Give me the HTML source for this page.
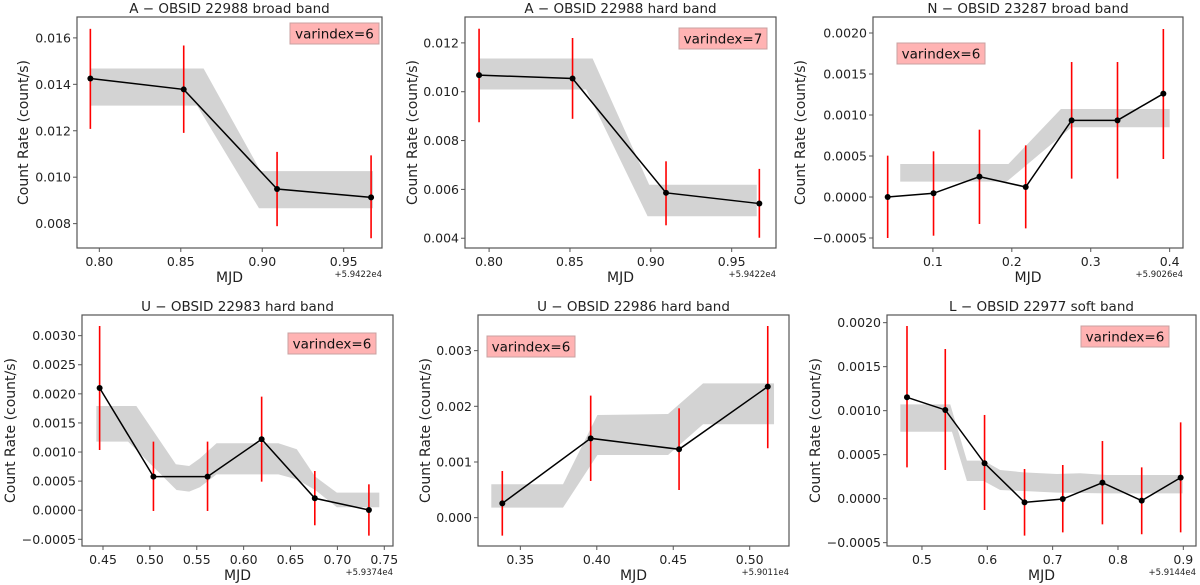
<!DOCTYPE html>
<html><head><meta charset="utf-8"><style>
html,body{margin:0;padding:0;background:#fff;}
svg{display:block;font-family:"DejaVu Sans","Liberation Sans",sans-serif;}
</style></head><body>
<svg id="fig" width="1200" height="585" viewBox="0 0 1200 585" xmlns="http://www.w3.org/2000/svg"></svg>
<script>
// ---- Panel 1: A - OBSID 22988 broad band ----
const p1X=[0.7945,0.8518,0.9091,0.9668];
const p1Y=[0.01425,0.01378,0.00949,0.00913];
const p1Hi=[0.01639,0.01567,0.01109,0.01094];
const p1Lo=[0.01208,0.01191,0.00789,0.00737];
const p1UpX=[0.7945,0.864,0.899,0.968];
const p1Up=[0.01468,0.01468,0.01026,0.01026];
const p1LoX=[0.7945,0.860,0.898,0.968];
const p1LoB=[0.01308,0.01308,0.00866,0.00866];
const p1YTicks=[0.008,0.010,0.012,0.014,0.016];
const p1XTicks=[0.80,0.85,0.90,0.95];
// ---- Panel 2: A - OBSID 22988 hard band ----
const p2X=[0.7938,0.8516,0.9094,0.9671];
const p2Y=[0.01068,0.01054,0.00586,0.00542];
const p2Hi=[0.01258,0.0122,0.00715,0.00684];
const p2Lo=[0.00875,0.00889,0.00453,0.00402];
const p2UpX=[0.7938,0.864,0.899,0.9655];
const p2Up=[0.01136,0.01136,0.00619,0.00619];
const p2LoX=[0.7938,0.860,0.898,0.9655];
const p2LoB=[0.01009,0.01009,0.0049,0.0049];
const p2YTicks=[0.004,0.006,0.008,0.010,0.012];
const p2XTicks=[0.80,0.85,0.90,0.95];
// ---- Panel 3: N - OBSID 23287 broad band ----
const p3X=[0.0427,0.1008,0.1590,0.2176,0.2758,0.3339,0.3920];
const p3Y=[0.0,0.000045,0.000248,0.000122,0.000935,0.000935,0.00126];
const p3Hi=[0.000504,0.000557,0.000821,0.00063,0.001646,0.001646,0.002049];
const p3Lo=[-0.0005,-0.000472,-0.000329,-0.000382,0.000224,0.000224,0.000463];
const p3UpX=[0.0586,0.1957,0.2622,0.4];
const p3Up=[0.000402,0.000402,0.001073,0.001073];
const p3LoX=[0.0586,0.1935,0.2757,0.4];
const p3LoB=[0.000187,0.000187,0.00085,0.00085];
const p3YTicks=[-0.0005,0.0,0.0005,0.0010,0.0015,0.0020];
const p3XTicks=[0.1,0.2,0.3,0.4];
// ---- Panel 4: U - OBSID 22983 hard band ----
const p4X=[0.4464,0.5038,0.5615,0.6192,0.6759,0.7336];
const p4Y=[0.0021,0.000577,0.000577,0.001219,0.000205,0.000004];
const p4Hi=[0.003166,0.001179,0.001179,0.001952,0.000674,0.000445];
const p4Lo=[0.001035,-0.000013,-0.000013,0.000491,-0.000259,-0.000437];
const p4UpX=[0.4429,0.4856,0.5277,0.5419,0.5533,0.5711,0.6371,0.6567,0.6763,0.6994,0.7447];
const p4Up=[0.001791,0.001791,0.000789,0.00076,0.000892,0.00115,0.00115,0.001047,0.000577,0.000302,0.000302];
const p4LoX=[0.4429,0.4767,0.5284,0.5419,0.5533,0.5711,0.6371,0.6567,0.6763,0.6994,0.7447];
const p4LoB=[0.001179,0.001179,0.000348,0.00032,0.000394,0.000617,0.000617,0.000531,0.000348,0.00005,0.00005];
const p4YTicks=[-0.0005,0.0,0.0005,0.0010,0.0015,0.0020,0.0025,0.0030];
const p4XTicks=[0.45,0.50,0.55,0.60,0.65,0.70,0.75];
// ---- Panel 5: U - OBSID 22986 hard band ----
const p5X=[0.3382,0.3960,0.4538,0.5118];
const p5Y=[0.000257,0.001425,0.001228,0.002353];
const p5Hi=[0.000838,0.002192,0.001964,0.003443];
const p5Lo=[-0.000323,0.000659,0.000497,0.001246];
const p5UpX=[0.3310,0.3779,0.4004,0.4466,0.4695,0.5159];
const p5Up=[0.000599,0.000599,0.001844,0.001862,0.002413,0.002413];
const p5LoX=[0.3310,0.3779,0.4004,0.4466,0.4695,0.5159];
const p5LoB=[0.00018,0.00018,0.001126,0.001126,0.001677,0.001677];
const p5YTicks=[0.0,0.001,0.002,0.003];
const p5XTicks=[0.35,0.40,0.45,0.50];
// ---- Panel 6: L - OBSID 22977 soft band ----
const p6X=[0.4771,0.5357,0.5958,0.6570,0.7155,0.7762,0.8363,0.8959];
const p6Y=[0.001152,0.001008,0.000402,-0.000042,-0.000004,0.000182,-0.000023,0.000239];
const p6Hi=[0.001962,0.001701,0.000951,0.000337,0.000383,0.000655,0.000356,0.000867];
const p6Lo=[0.000356,0.000326,-0.000129,-0.00042,-0.000383,-0.000292,-0.000405,-0.000383];
const p6UpX=[0.4669,0.5433,0.5688,0.5943,0.6197,0.6554,0.7064,0.7420,0.7828,0.8990];
const p6Up=[0.001072,0.001072,0.000432,0.000432,0.000326,0.000299,0.00028,0.000288,0.000269,0.000269];
const p6LoX=[0.4669,0.5459,0.5688,0.5943,0.6197,0.6554,0.7064,0.7828,0.8990];
const p6LoB=[0.000761,0.000761,0.000201,0.000201,0.000098,0.000087,0.000068,0.00006,0.00006];
const p6YTicks=[-0.0005,0.0,0.0005,0.0010,0.0015,0.0020];
const p6XTicks=[0.5,0.6,0.7,0.8,0.9];

const panels=[
 {id:'p1',title:'A \u2212 OBSID 22988 broad band',box:[77,17,382,248],xr:[0.7863,0.9735],yr:[0.00695,0.0169],x:p1X,y:p1Y,hi:p1Hi,lo:p1Lo,upX:p1UpX,up:p1Up,loX:p1LoX,loB:p1LoB,yt:p1YTicks,xt:p1XTicks,yd:3,xd:2,off:'+5.9422e4',vi:'varindex=6',vb:[290,23,89,21],yl:54},
 {id:'p2',title:'A \u2212 OBSID 22988 hard band',box:[465,17,776,248],xr:[0.7851,0.9774],yr:[0.0036,0.01306],x:p2X,y:p2Y,hi:p2Hi,lo:p2Lo,upX:p2UpX,up:p2Up,loX:p2LoX,loB:p2LoB,yt:p2YTicks,xt:p2XTicks,yd:3,xd:2,off:'+5.9422e4',vi:'varindex=7',vb:[679,28,88,21],yl:53},
 {id:'p3',title:'N \u2212 OBSID 23287 broad band',box:[873,17,1183,248],xr:[0.0241,0.4169],yr:[-0.000622,0.002195],x:p3X,y:p3Y,hi:p3Hi,lo:p3Lo,upX:p3UpX,up:p3Up,loX:p3LoX,loB:p3LoB,yt:p3YTicks,xt:p3XTicks,yd:4,xd:1,off:'+5.9026e4',vi:'varindex=6',vb:[897,43,88,21],yl:73},
 {id:'p4',title:'U \u2212 OBSID 22983 hard band',box:[82,315,393,546],xr:[0.4276,0.7593],yr:[-0.000615,0.003355],x:p4X,y:p4Y,hi:p4Hi,lo:p4Lo,upX:p4UpX,up:p4Up,loX:p4LoX,loB:p4LoB,yt:p4YTicks,xt:p4XTicks,yd:4,xd:2,off:'+5.9374e4',vi:'varindex=6',vb:[288,333,88,21],yl:72},
 {id:'p5',title:'U \u2212 OBSID 22986 hard band',box:[478,315,789,546],xr:[0.3223,0.5257],yr:[-0.000509,0.00364],x:p5X,y:p5Y,hi:p5Hi,lo:p5Lo,upX:p5UpX,up:p5Up,loX:p5LoX,loB:p5LoB,yt:p5YTicks,xt:p5XTicks,yd:3,xd:2,off:'+5.9011e4',vi:'varindex=6',vb:[487,336,88,21],yl:53},
 {id:'p6',title:'L \u2212 OBSID 22977 soft band',box:[887,315,1196,546],xr:[0.4465,0.9194],yr:[-0.000538,0.002087],x:p6X,y:p6Y,hi:p6Hi,lo:p6Lo,upX:p6UpX,up:p6Up,loX:p6LoX,loB:p6LoB,yt:p6YTicks,xt:p6XTicks,yd:4,xd:1,off:'+5.9144e4',vi:'varindex=6',vb:[1081,326,88,21],yl:72}
];
const NS='http://www.w3.org/2000/svg';
const svg=document.getElementById('fig');
function mk(tag,attrs,parent,text){const e=document.createElementNS(NS,tag);for(const k in attrs)e.setAttribute(k,attrs[k]);if(text!==undefined)e.textContent=text;parent.appendChild(e);return e;}
function fmt(v,d){const s=Math.abs(v).toFixed(d);return (v<-1e-12?'\u2212':'')+s;}
panels.forEach(p=>{
 const [L,T,R,B]=p.box;
 const sx=v=>L+(v-p.xr[0])/(p.xr[1]-p.xr[0])*(R-L);
 const sy=v=>B-(v-p.yr[0])/(p.yr[1]-p.yr[0])*(B-T);
 const g=mk('g',{},svg);
 
 
 // band
 let pts=p.upX.map((x,i)=>sx(x)+','+sy(p.up[i]));
 for(let i=p.loX.length-1;i>=0;i--)pts.push(sx(p.loX[i])+','+sy(p.loB[i]));
 const band=mk('polygon',{points:pts.join(' '),fill:'#d3d3d3',stroke:'none'},g);
 
 
 // error bars
 p.x.forEach((x,i)=>{
  const eb=mk('line',{x1:sx(x),x2:sx(x),y1:sy(p.hi[i]),y2:sy(p.lo[i]),stroke:'#ff0000','stroke-width':1.6},g);
  
  
 });
 // line
 const ln=mk('polyline',{points:p.x.map((x,i)=>sx(x)+','+sy(p.y[i])).join(' '),fill:'none',stroke:'#000','stroke-width':1.5},g);
 
 
 p.x.forEach((x,i)=>{
  const c=mk('circle',{cx:sx(x),cy:sy(p.y[i]),r:3,fill:'#000'},g);
  
  
 });
 // axes frame
 const fr=mk('rect',{x:L,y:T,width:R-L,height:B-T,fill:'none',stroke:'#555','stroke-width':1.2},g);
 
 
 // y ticks
 p.yt.forEach(v=>{
  const y=sy(v);
  mk('line',{x1:L-4,x2:L,y1:y,y2:y,stroke:'#555','stroke-width':1},g);
  const t=mk('text',{x:L-6,y:y+4.5,'text-anchor':'end','font-size':12.5,fill:'#222'},g,fmt(v,p.yd));
  
  
 });
 p.xt.forEach(v=>{
  const x=sx(v);
  mk('line',{x1:x,x2:x,y1:B,y2:B+4,stroke:'#555','stroke-width':1},g);
  const t=mk('text',{x:x,y:B+18,'text-anchor':'middle','font-size':12.5,fill:'#222'},g,fmt(v,p.xd));
  
  
 });
 const ti=mk('text',{x:(L+R)/2,y:T-4,'text-anchor':'middle','font-size':13.5,fill:'#222'},g,p.title);
 
 
 const xl=mk('text',{x:(L+R)/2,y:B+34,'text-anchor':'middle','font-size':14,fill:'#222'},g,'MJD');
 
 
 const of=mk('text',{x:R,y:B+29,'text-anchor':'end','font-size':8.5,fill:'#222'},g,p.off);
 
 
 const yc=(T+B)/2, xc=L-p.yl;
 const yl=mk('text',{x:xc,y:yc+5,'text-anchor':'middle','font-size':14,fill:'#222',transform:'rotate(-90 '+xc+' '+yc+')'},g,'Count Rate (count/s)');
 
 
 const [bx,by,bw,bh]=p.vb;
 const vr=mk('rect',{x:bx,y:by,width:bw,height:bh,fill:'#ffb3b3',stroke:'#c8a0a0','stroke-width':1},g);
 
 
 const vt=mk('text',{x:bx+bw/2,y:by+bh/2+5,'text-anchor':'middle','font-size':13.5,fill:'#111'},g,p.vi);
 
 
});
</script>
</body></html>
